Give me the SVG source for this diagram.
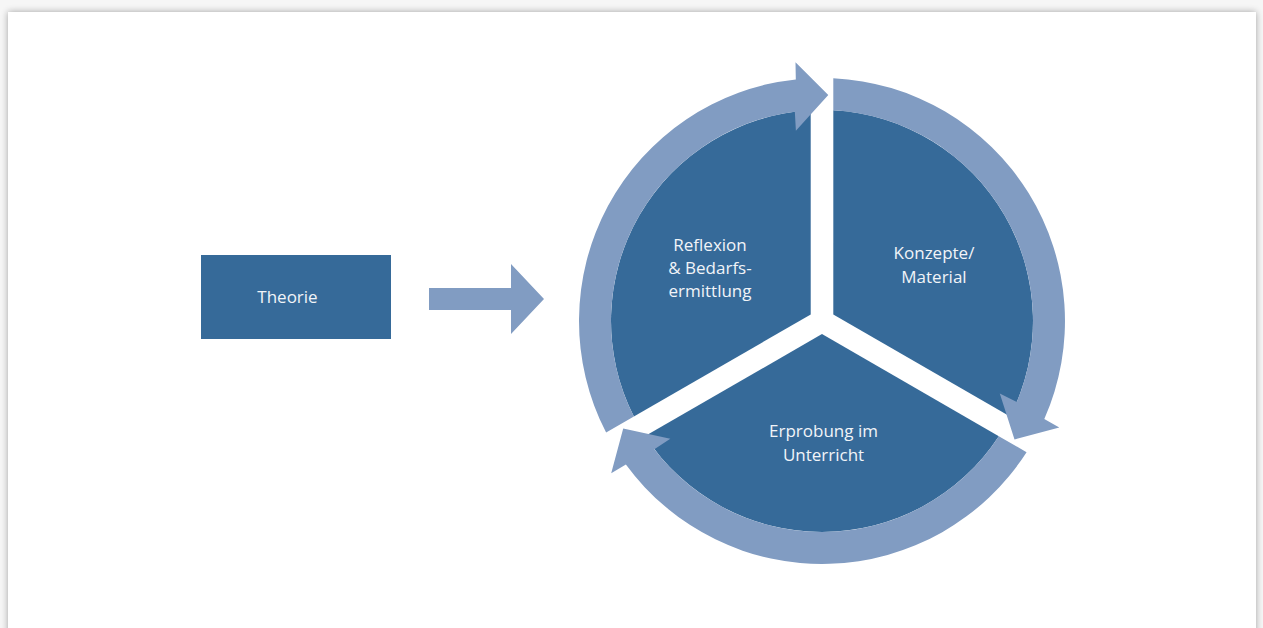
<svg xmlns="http://www.w3.org/2000/svg" width="1263" height="628" viewBox="0 0 1263 628">
  <defs>
    <filter id="shadow" x="-5%" y="-5%" width="110%" height="110%">
      <feGaussianBlur in="SourceAlpha" stdDeviation="3.5"/>
      <feComponentTransfer><feFuncA type="linear" slope="0.35"/></feComponentTransfer>
      <feMerge><feMergeNode/><feMergeNode in="SourceGraphic"/></feMerge>
    </filter>
    <path id="sector" d="M 833.3 314.5 L 833.3 110.3 A 211 211 0 0 1 1010.1 416.56 Z"/>
    <path id="ringArrow" d="M 833.3 78.26 A 243 243 0 0 1 1044.3 419.1 L 1059.3 427.4 L 1014.5 439.4 L 999.8 393.5 L 1016.8 402.1 A 211 211 0 0 0 833.3 110.3 Z"/>
  </defs>
  <style>
    .dark { fill: #366a99; }
    .light { fill: #819cc2; }
    .lbl { font-family: "Open Sans", "Noto Sans", "Liberation Sans", sans-serif; font-size: 17px; fill: #f1f4f8; text-anchor: middle; }
  </style>
  <rect x="0" y="0" width="1263" height="628" fill="#f6f6f6"/>
  <rect x="8" y="12" width="1248" height="700" fill="#ffffff" filter="url(#shadow)"/>

  <g id="theorie">
    <rect class="dark" x="201" y="255" width="190" height="84"/>
    <text class="lbl" x="287.5" y="303">Theorie</text>
  </g>

  <g id="konzepte-material">
    <use href="#sector" class="dark"/>
    <text class="lbl" x="934" y="259">Konzepte/</text>
    <text class="lbl" x="934" y="283">Material</text>
  </g>

  <g id="erprobung">
    <use href="#sector" class="dark" transform="rotate(120 822 321)"/>
    <text class="lbl" x="823.5" y="437">Erprobung im</text>
    <text class="lbl" x="823.5" y="461">Unterricht</text>
  </g>

  <g id="reflexion">
    <use href="#sector" class="dark" transform="rotate(240 822 321)"/>
    <text class="lbl" x="710" y="251">Reflexion</text>
    <text class="lbl" x="710" y="274">&amp; Bedarfs-</text>
    <text class="lbl" x="710" y="297">ermittlung</text>
  </g>

  <g id="connectors">
    <polygon class="light" points="429,288 511,288 511,264 544,299 511,334 511,310 429,310"/>
    <use href="#ringArrow" class="light"/>
    <use href="#ringArrow" class="light" transform="rotate(120 822 321)"/>
    <use href="#ringArrow" class="light" transform="rotate(240 822 321)"/>
  </g>
</svg>
